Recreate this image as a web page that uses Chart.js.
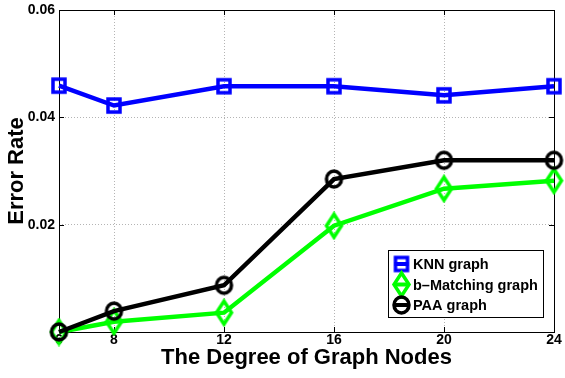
<!DOCTYPE html>
<html>
<head>
<meta charset="utf-8">
<script src="https://cdn.jsdelivr.net/npm/chart.js@4/dist/chart.umd.min.js"></script>
<style>
html,body{margin:0;padding:0;background:#fff;}
#wrap{width:565px;height:378px;position:relative;}
</style>
</head>
<body>
<div id="wrap"><canvas id="c" width="565" height="378"></canvas></div>
<script>
// ---- data ----
const degrees = [6, 8, 12, 16, 20, 24];
const knnGraph = [0.0459, 0.0422, 0.0458, 0.0458, 0.0441, 0.0458];
const bMatchingGraph = [0.0000, 0.0019, 0.0036, 0.0198, 0.0267, 0.0282];
const paaGraph = [0.0000, 0.0039, 0.0087, 0.0285, 0.0320, 0.0320];
const xTickValues = [6, 8, 12, 16, 20, 24];
const yTickValues = [0, 0.02, 0.04, 0.06];
const seriesNames = ['KNN graph', 'b\u2013Matching graph', 'PAA graph'];

const FONT = '"Liberation Sans", Arial, sans-serif';

function makeMarker(shape, color, w, h, lw) {
  const pad = Math.ceil(lw / 2) + 1;
  const c = document.createElement('canvas');
  c.width = w + pad * 2; c.height = h + pad * 2;
  const g = c.getContext('2d');
  g.strokeStyle = color; g.lineWidth = lw; g.lineJoin = 'miter';
  const cx = c.width / 2, cy = c.height / 2;
  g.beginPath();
  if (shape === 'square') {
    g.rect(cx - w / 2, cy - h / 2, w, h);
  } else if (shape === 'diamond') {
    g.moveTo(cx, cy - h / 2); g.lineTo(cx + w / 2, cy);
    g.lineTo(cx, cy + h / 2); g.lineTo(cx - w / 2, cy); g.closePath();
  } else {
    g.ellipse(cx, cy, w / 2, h / 2, 0, 0, Math.PI * 2);
  }
  g.stroke();
  return c;
}
const mSquare = makeMarker('square', '#0000ff', 12, 13, 3.5);
const mDiamond = makeMarker('diamond', '#00ff00', 15, 23, 3.5);
const mCircle = makeMarker('circle', '#000000', 15, 16, 3.5);

const toPts = arr => degrees.map((d, i) => ({x: d, y: arr[i]}));

const framePlugin = {
  id: 'frame',
  beforeDatasetsDraw(chart) {
    const {ctx, chartArea: a, scales} = chart;
    ctx.save();
    ctx.strokeStyle = '#000'; ctx.lineWidth = 1;
    ctx.strokeRect(Math.round(a.left) + 0.5, Math.round(a.top) + 0.5,
      Math.round(a.right - a.left), Math.round(a.bottom - a.top));
    ctx.beginPath();
    const tl = 5;
    xTickValues.forEach(v => {
      const x = Math.round(scales.x.getPixelForValue(v)) + 0.5;
      ctx.moveTo(x, a.bottom); ctx.lineTo(x, a.bottom - tl);
      ctx.moveTo(x, a.top); ctx.lineTo(x, a.top + tl);
    });
    yTickValues.forEach(v => {
      const y = Math.round(scales.y.getPixelForValue(v)) + 0.5;
      ctx.moveTo(a.left, y); ctx.lineTo(a.left + tl, y);
      ctx.moveTo(a.right, y); ctx.lineTo(a.right - tl, y);
    });
    ctx.stroke();
    ctx.restore();
  },
  afterDatasetsDraw(chart) {
    const {ctx} = chart;
    const bx = 388, by = 250, bw = 155, bh = 67;
    ctx.save();
    ctx.fillStyle = '#fff';
    ctx.fillRect(bx, by, bw, bh);
    ctx.strokeStyle = '#000'; ctx.lineWidth = 1;
    ctx.strokeRect(bx + 0.5, by + 0.5, bw, bh);
    const items = [
      {name: seriesNames[0], color: '#0000ff', m: mSquare, y: 264},
      {name: seriesNames[1], color: '#00ff00', m: mDiamond, y: 284.5},
      {name: seriesNames[2], color: '#000000', m: mCircle, y: 305}
    ];
    const mx = 401.5;
    items.forEach(it => {
      ctx.strokeStyle = it.color; ctx.lineWidth = 4;
      ctx.beginPath(); ctx.moveTo(mx - 7, it.y); ctx.lineTo(mx + 7, it.y); ctx.stroke();
      ctx.drawImage(it.m, mx - it.m.width / 2, it.y - it.m.height / 2);
      ctx.fillStyle = '#000';
      ctx.font = 'bold 14.5px ' + FONT;
      ctx.textBaseline = 'middle'; ctx.textAlign = 'left';
      ctx.fillText(it.name, 413, it.y + 1);
    });
    ctx.restore();
  }
};

const gridColor = (edgeVals) => (c) => {
  const v = c.tick && c.tick.value;
  return edgeVals.includes(v) ? 'rgba(0,0,0,0)' : '#b4b4b4';
};

new Chart(document.getElementById('c'), {
  type: 'line',
  data: {
    datasets: [
      {label: seriesNames[0], data: toPts(knnGraph), borderColor: '#0000ff',
       borderWidth: 4.5, pointStyle: mSquare, order: 2, clip: false},
      {label: seriesNames[1], data: toPts(bMatchingGraph), borderColor: '#00ff00',
       borderWidth: 4.5, pointStyle: mDiamond, order: 1, clip: false},
      {label: seriesNames[2], data: toPts(paaGraph), borderColor: '#000000',
       borderWidth: 4.5, pointStyle: mCircle, order: 0, clip: false}
    ]
  },
  options: {
    responsive: false,
    animation: false,
    devicePixelRatio: 1,
    layout: {autoPadding: false, padding: {top: 10, right: 11, left: 0, bottom: 0}},
    plugins: {legend: {display: false}, tooltip: {enabled: false}},
    elements: {line: {tension: 0, fill: false}, point: {radius: 8}},
    scales: {
      x: {
        type: 'linear', min: 6, max: 24,
        afterBuildTicks: s => { s.ticks = xTickValues.map(v => ({value: v})); },
        afterFit: s => { s.height = 46; s.paddingLeft = 0; s.paddingRight = 0; },
        border: {display: false, dash: [1, 2]},
        grid: {color: gridColor([6, 24]), lineWidth: 1, drawTicks: false},
        ticks: {padding: 0, color: '#000', font: {family: FONT, size: 14, weight: 'bold'},
                maxRotation: 0, autoSkip: false, callback: v => String(v)},
        title: {display: true, text: 'The Degree of Graph Nodes', color: '#000',
                font: {family: FONT, size: 22, weight: 'bold'}, padding: {top: 0, bottom: 7}}
      },
      y: {
        min: 0, max: 0.06,
        afterBuildTicks: s => { s.ticks = yTickValues.map(v => ({value: v})); },
        afterFit: s => { s.width = 59; s.paddingTop = 0; s.paddingBottom = 0; },
        border: {display: false, dash: [1, 2]},
        grid: {color: gridColor([0, 0.06]), lineWidth: 1, drawTicks: false},
        ticks: {padding: 4, color: '#000', font: {family: FONT, size: 14, weight: 'bold'},
                callback: v => (v === 0 ? '' : Number(v).toFixed(2))},
        title: {display: true, text: 'Error Rate', color: '#000',
                font: {family: FONT, size: 22, weight: 'bold'}, padding: {top: 4, bottom: 0}}
      }
    }
  },
  plugins: [framePlugin]
});
</script>
</body>
</html>
